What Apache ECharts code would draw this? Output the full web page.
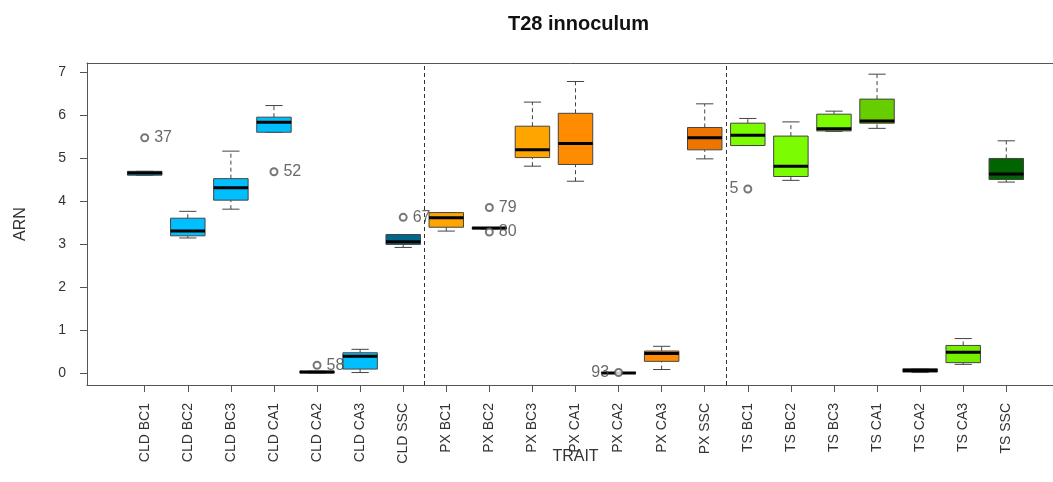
<!DOCTYPE html>
<html><head><meta charset="utf-8">
<script src="https://cdn.jsdelivr.net/npm/echarts@6/dist/echarts.min.js"></script>
<style>html,body{margin:0;padding:0;background:#fff}#c{width:1053px;height:482px}</style>
</head><body><div id="c"></div>
<script>
// ---- data ----
const categories = ['CLD BC1','CLD BC2','CLD BC3','CLD CA1','CLD CA2','CLD CA3','CLD SSC',
  'PX BC1','PX BC2','PX BC3','PX CA1','PX CA2','PX CA3','PX SSC',
  'TS BC1','TS BC2','TS BC3','TS CA1','TS CA2','TS CA3','TS SSC'];
const whiskerLow  = [4.60,3.14,3.81,5.60,0.00,0.01,2.92, 3.30,3.35,4.81,4.46,0.00,0.08,4.98, 5.29,4.48,5.62,5.69,0.01,0.20,4.44];
const quartile1   = [4.60,3.19,4.02,5.60,0.00,0.09,2.99, 3.39,3.35,5.01,4.85,0.00,0.27,5.19, 5.29,4.57,5.63,5.81,0.02,0.24,4.50];
const medians     = [4.65,3.30,4.31,5.83,0.02,0.39,3.05, 3.61,3.37,5.19,5.34,0.00,0.45,5.47, 5.53,4.81,5.68,5.86,0.06,0.48,4.63];
const quartile3   = [4.69,3.60,4.52,5.95,0.04,0.47,3.22, 3.73,3.38,5.74,6.04,0.01,0.51,5.71, 5.81,5.51,6.02,6.37,0.10,0.64,4.99];
const whiskerHigh = [4.69,3.76,5.16,6.22,0.04,0.55,3.22, 3.73,3.38,6.30,6.78,0.01,0.62,6.26, 5.92,5.84,6.09,6.95,0.10,0.80,5.40];
const outlierCategory = [1,4,5,7,9,9,12,15];
const outlierValue    = [5.47,4.68,0.18,3.62,3.85,3.28,0.01,4.28];
const outlierLabel    = ['37','52','58','67','79','80','93','5'];
const yTicks = [0,1,2,3,4,5,6,7];
const groupSeparators = [7.5, 14.5];

// ---- styles ----
const boxColors = ['#00BFFF','#00BFFF','#00BFFF','#00BFFF','#00BFFF','#00BFFF','#00688B',
  '#FFA500','#FFA500','#FFA500','#FF8C00','#FF8C00','#FF8C00','#EE7600',
  '#7CFC00','#7CFC00','#7CFC00','#66CD00','#76EE00','#76EE00','#006400'];
const leftLabelled = ['93','5'];
const FONT = '"Liberation Sans", Arial, sans-serif';
const FRAME = { show: true, onZero: false, lineStyle: { color: '#555', width: 1 } };

const positions = categories.map((c, i) => i + 1);
const boxData = categories.map((c, i) => [i + 1, whiskerLow[i], quartile1[i], medians[i], quartile3[i], whiskerHigh[i]]);
const outlierData = outlierValue.map((v, i) => ({
  value: [outlierCategory[i], v],
  label: { formatter: outlierLabel[i], position: leftLabelled.includes(outlierLabel[i]) ? 'left' : 'right' }
}));

const chart = echarts.init(document.getElementById('c'), null, { renderer: 'canvas' });
chart.setOption({
  animation: false,
  backgroundColor: '#fff',
  title: {
    text: 'T28 innoculum', left: 503, top: 9,
    textStyle: { fontSize: 20, fontWeight: 'bold', color: '#111', fontFamily: FONT }
  },
  grid: { left: 87, top: 63, width: 977, height: 322, show: false, containLabel: false, outerBoundsMode: 'none' },
  xAxis: [{
    type: 'value', min: -0.34, max: 22.34, position: 'bottom',
    axisLine: FRAME, splitLine: { show: false },
    axisTick: { show: true, inside: false, customValues: positions, length: 7, lineStyle: { color: '#555' } },
    axisLabel: { customValues: positions, formatter: v => categories[Math.round(v) - 1], rotate: 90, margin: 18,
      fontSize: 14, color: '#333', fontFamily: FONT },
    name: 'TRAIT', nameLocation: 'middle', nameGap: 64, nameMoveOverlap: false,
    nameTextStyle: { fontSize: 16, color: '#333', fontFamily: FONT }
  }, {
    type: 'value', min: -0.34, max: 22.34, position: 'top',
    axisLine: FRAME, splitLine: { show: false }, axisTick: { show: false }, axisLabel: { show: false }
  }],
  yAxis: {
    type: 'value', min: -0.28, max: 7.21, position: 'left',
    axisLine: FRAME, splitLine: { show: false },
    axisTick: { show: true, inside: false, customValues: yTicks, length: 7, lineStyle: { color: '#555' } },
    axisLabel: { customValues: yTicks, margin: 21, fontSize: 14, color: '#333', fontFamily: FONT },
    name: 'ARN', nameLocation: 'middle', nameGap: 58, nameRotate: 90, nameMoveOverlap: false,
    nameTextStyle: { fontSize: 16, color: '#333', fontFamily: FONT }
  },
  series: [
    {
      type: 'custom',
      data: boxData,
      dimensions: ['x', 'low', 'q1', 'median', 'q3', 'high'],
      encode: { x: 0, y: [1, 2, 3, 4, 5] },
      renderItem: function (params, api) {
        const x = api.value(0);
        const pLo = api.coord([x, api.value(1)]);
        const pQ1 = api.coord([x, api.value(2)]);
        const pMd = api.coord([x, api.value(3)]);
        const pQ3 = api.coord([x, api.value(4)]);
        const pHi = api.coord([x, api.value(5)]);
        const halfBox = api.size([0.8, 0])[0] / 2;
        const halfCap = halfBox / 2;
        const cx = pMd[0];
        const dashed = { stroke: '#444', lineWidth: 1, lineDash: [4, 3] };
        const solid = { stroke: '#444', lineWidth: 1 };
        return {
          type: 'group',
          children: [
            { type: 'line', shape: { x1: cx, y1: pQ3[1], x2: cx, y2: pHi[1] }, style: dashed },
            { type: 'line', shape: { x1: cx, y1: pLo[1], x2: cx, y2: pQ1[1] }, style: dashed },
            { type: 'line', shape: { x1: cx - halfCap, y1: pHi[1], x2: cx + halfCap, y2: pHi[1] }, style: solid },
            { type: 'line', shape: { x1: cx - halfCap, y1: pLo[1], x2: cx + halfCap, y2: pLo[1] }, style: solid },
            { type: 'rect', shape: { x: cx - halfBox, y: pQ3[1], width: 2 * halfBox, height: pQ1[1] - pQ3[1] },
              style: { fill: boxColors[params.dataIndex], stroke: '#444', lineWidth: 1 } },
            { type: 'line', shape: { x1: cx - halfBox, y1: pMd[1], x2: cx + halfBox, y2: pMd[1] }, style: { stroke: '#000', lineWidth: 3 } }
          ]
        };
      }
    },
    {
      type: 'scatter',
      data: outlierData,
      symbol: 'emptyCircle', symbolSize: 7,
      itemStyle: { color: '#555', borderWidth: 1 },
      label: { show: true, fontSize: 16, color: '#444', distance: 5, fontFamily: FONT },
      markLine: {
        silent: true, symbol: 'none',
        label: { show: false },
        lineStyle: { type: [4, 3], color: '#333', width: 1 },
        data: groupSeparators.map(v => ({ xAxis: v }))
      }
    }
  ]
});
</script>
</body></html>
